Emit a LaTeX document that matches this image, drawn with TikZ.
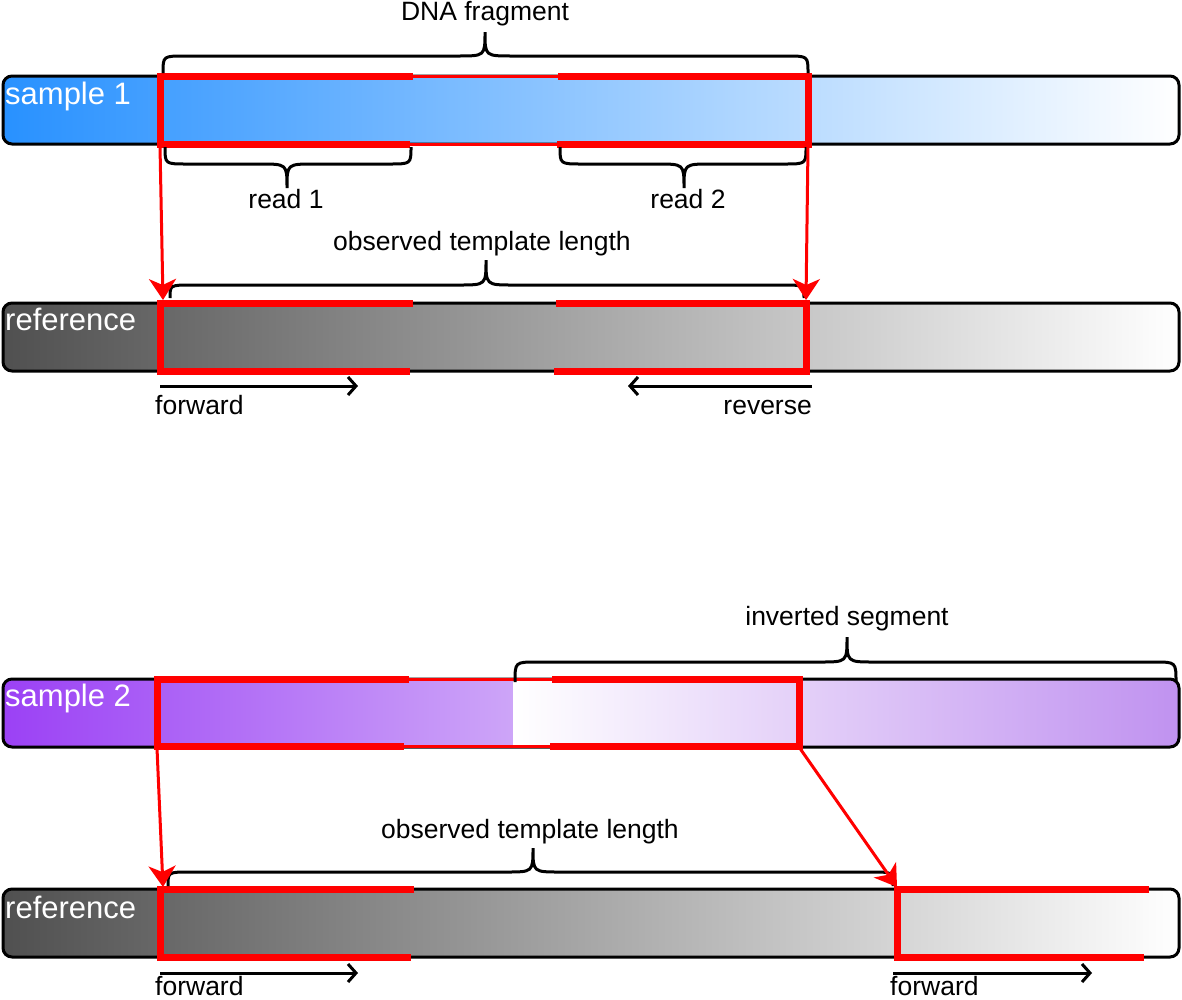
\documentclass[tikz,border=0pt]{standalone}
\usepackage{fontspec}
\setmainfont{Liberation Sans}
\usetikzlibrary{arrows.meta}
\definecolor{sblue}{RGB}{40,145,255}
\definecolor{refgray}{RGB}{80,80,80}
\definecolor{spurpleA}{RGB}{155,65,245}
\definecolor{spurpleB}{RGB}{205,165,248}
\definecolor{spurpleC}{RGB}{192,146,240}
\tikzset{
  barline/.style={draw=black, line width=3pt, rounded corners=9pt},
  redthick/.style={draw=red, line width=7pt},
  redthin/.style={draw=red, line width=3pt},
  redarrow/.style={draw=red, line width=3pt, -{Stealth[length=21pt,width=27pt,inset=6pt]}},
  dirarrow/.style={draw=black, line width=3pt, -{Straight Barb[length=8pt,width=18pt]}},
  bracestyle/.style={draw=black, line width=3pt},
  lbl/.style={font=\fontsize{26.5}{31}\selectfont, inner sep=0pt},
  barlbl/.style={font=\fontsize{31}{37}\selectfont, text=white, inner sep=0pt}
}
% xa xb xm y0 y1 y2
\newcommand\mybrace[6]{%
  \draw[bracestyle] (#1,#4) .. controls (#1,#5) .. ({#1+22},#5) -- ({#3-27},#5)
    .. controls (#3,#5) .. (#3,#6) .. controls (#3,#5) .. ({#3+27},#5)
    -- ({#2-22},#5) .. controls (#2,#5) .. (#2,#4);}
\begin{document}
\begin{tikzpicture}[x=1pt,y=-1pt]
\useasboundingbox (0,0) rectangle (1182,999);

% ---------- bars ----------
\shade[left color=sblue, right color=white, rounded corners=9pt] (3,76) rectangle (1179,144);
\draw[barline] (3,76) rectangle (1179,144);

\shade[left color=refgray, right color=white, rounded corners=9pt] (3,303) rectangle (1179,371);
\draw[barline] (3,303) rectangle (1179,371);

\begin{scope}
  \clip[rounded corners=9pt] (3,679) rectangle (1179,747);
  \shade[left color=spurpleA, right color=spurpleB] (3,679) rectangle (513,747);
  \shade[left color=white, right color=spurpleC] (513,679) rectangle (1179,747);
\end{scope}
\draw[barline] (3,679) rectangle (1179,747);

\shade[left color=refgray, right color=white, rounded corners=9pt] (3,889) rectangle (1179,957);
\draw[barline] (3,889) rectangle (1179,957);

% ---------- bar labels ----------
\node[barlbl, anchor=base west] (s1lbl) at (5,104) {sample 1};
\node[barlbl, anchor=base west] (r1lbl) at (5,330) {reference};
\node[barlbl, anchor=base west] (s2lbl) at (5,706) {sample 2};
\node[barlbl, anchor=base west] (r2lbl) at (5,918) {reference};

% ---------- red read marks ----------
\draw[redthin] (160,76) rectangle (808,144);
\draw[redthick] (413,76) -- (160,76) -- (160,144) -- (410,144);
\draw[redthick] (558,76) -- (808,76) -- (808,144) -- (557,144);

\draw[redthick] (413,303) -- (160,303) -- (160,371) -- (410,371);
\draw[redthick] (556,303) -- (806,303) -- (806,371) -- (554,371);

\draw[redthin] (157,679) rectangle (799,746);
\draw[redthick] (409,679) -- (157,679) -- (157,746) -- (404,746);
\draw[redthick] (552,679) -- (799,679) -- (799,746) -- (550,746);

\draw[redthick] (414,889) -- (160,889) -- (160,957) -- (411,957);
\draw[redthick] (1149,889) -- (897,889) -- (897,957) -- (1144,957);

% ---------- braces ----------
\mybrace{163}{808}{485}{73}{56}{32}
\mybrace{165}{411}{287}{147}{164}{188}
\mybrace{560}{806}{684}{147}{164}{188}
\mybrace{170}{804}{486}{298}{285}{260}
\mybrace{515}{1176}{847}{682}{662}{637}
\mybrace{168}{893}{533}{886}{872}{848}

% ---------- labels ----------
\node[lbl, anchor=base] (dna) at (485,20) {DNA fragment};
\node[lbl, anchor=base] (read1) at (286,208) {read 1};
\node[lbl, anchor=base] (read2) at (688,208) {read 2};
\node[lbl, anchor=base] (otl1) at (482,250) {observed template length};
\node[lbl, anchor=base west] (fw1) at (155,414) {forward};
\node[lbl, anchor=base east] (rv1) at (812,414) {reverse};
\node[lbl, anchor=base] (inv) at (847,625) {inverted segment};
\node[lbl, anchor=base] (otl2) at (530,838) {observed template length};
\node[lbl, anchor=base west] (fw2) at (155,995) {forward};
\node[lbl, anchor=base west] (fw3) at (890,995) {forward};

% ---------- direction arrows ----------
\coordinate (f1a) at (160,386); \coordinate (f1b) at (358,386);
\coordinate (rv1a) at (812,386); \coordinate (rv1b) at (628,386);
\coordinate (f2a) at (160,973); \coordinate (f2b) at (358,973);
\coordinate (f3a) at (893,973); \coordinate (f3b) at (1092,973);
\draw[dirarrow] (f1a) -- (f1b);
\draw[dirarrow] (rv1a) -- (rv1b);
\draw[dirarrow] (f2a) -- (f2b);
\draw[dirarrow] (f3a) -- (f3b);

% ---------- mapping arrows ----------
\coordinate (s1l) at (160,146); \coordinate (r1l) at (163,300);
\coordinate (s1r) at (808,146); \coordinate (r1r) at (806,300);
\coordinate (s2l) at (157,748); \coordinate (r2l) at (163,887);
\coordinate (s2r) at (799,747); \coordinate (r2r) at (897,887);
\draw[redarrow] (s1l) -- (r1l);
\draw[redarrow] (s1r) -- (r1r);
\draw[redarrow] (s2l) -- (r2l);
\draw[redarrow] (s2r) -- (r2r);
\end{tikzpicture}
\end{document}
